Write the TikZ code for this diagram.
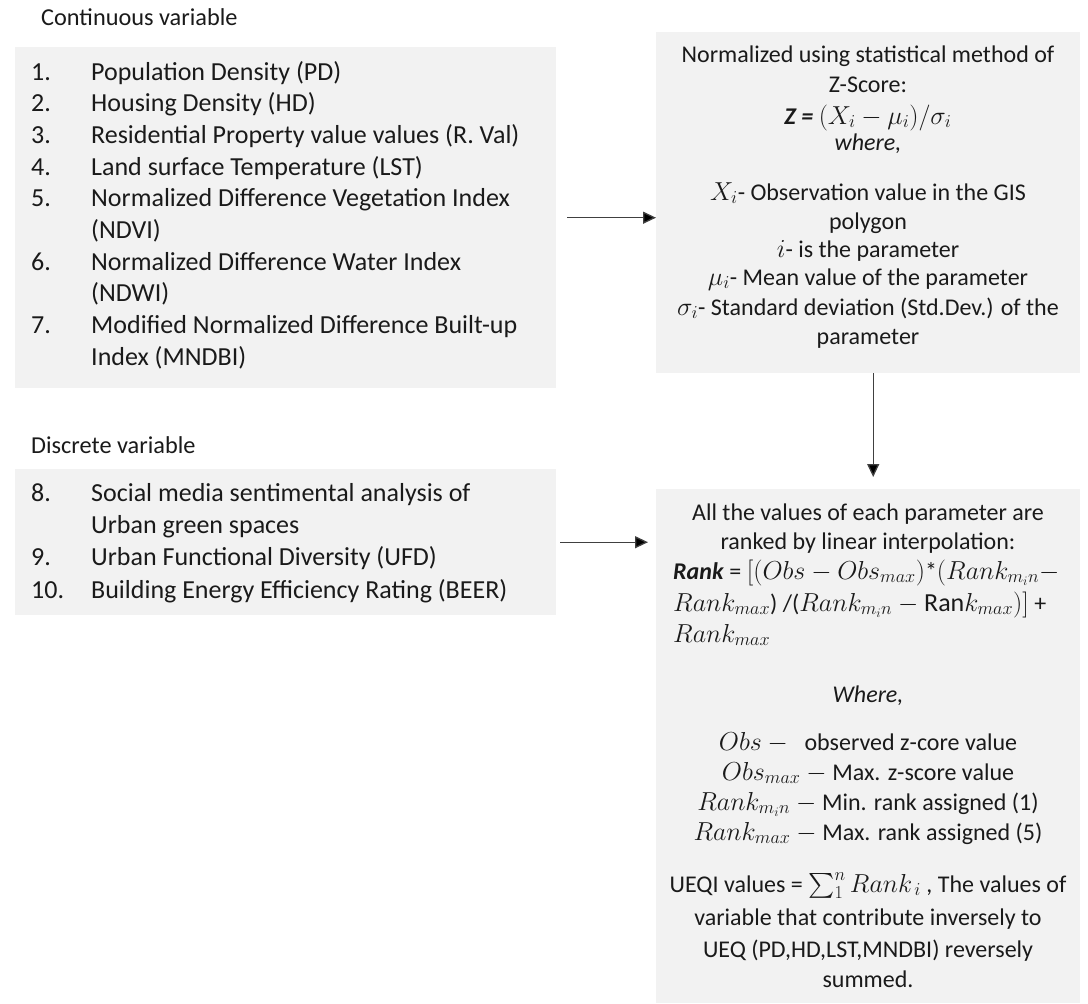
\RequirePackage{fix-cm}
\documentclass[tikz,border=0pt]{standalone}
\usepackage{exscale}
\usepackage{fontspec}
\setmainfont{Carlito}
\usetikzlibrary{arrows.meta}
\definecolor{boxgray}{HTML}{F2F2F2}
\definecolor{ink}{HTML}{1A1A1A}
\definecolor{arrgray}{HTML}{404040}
\newcommand\mth[1]{{\fontsize{26}{29}\selectfont$#1$}}
\begin{document}
\begin{tikzpicture}[x=1pt,y=-1pt,
  box/.style={fill=boxgray,draw=none,inner sep=0pt,anchor=north west},
  lft/.style={anchor=base west,inner sep=0pt,text=ink,font=\fontsize{26}{32}\selectfont},
  hdr/.style={anchor=base west,inner sep=0pt,text=ink,font=\fontsize{24.3}{28}\selectfont},
  ctr/.style={anchor=base,inner sep=0pt,text=ink,font=\fontsize{24}{29}\selectfont},
  rl/.style={anchor=base west,inner sep=0pt,text=ink,font=\fontsize{24}{29}\selectfont},
  arr/.style={draw=arrgray,line width=1.3pt,-{Triangle[length=13pt,width=12pt,fill=black]}}]
\useasboundingbox (0,0) rectangle (1088,1004);
\fill[white] (0,0) rectangle (1088,1004);

% boxes
\node[box,minimum width=541pt,minimum height=341pt] (b1) at (15,47) {};
\node[box,minimum width=541pt,minimum height=146pt] (b2) at (15,469) {};
\node[box,minimum width=424pt,minimum height=341pt] (r1) at (656,32) {};
\node[box,minimum width=424pt,minimum height=514pt] (r2) at (656,489) {};

% headers
\node[hdr] (hc) at (41,25) {Continuous variable};
\node[hdr] (hd) at (31,453) {Discrete variable};

% continuous list
\node[lft] (n1) at (31,80) {1.};  \node[lft] (t1) at (91,80) {Population Density (PD)};
\node[lft] (n2) at (31,111.7) {2.};  \node[lft] (t2) at (91,111.7) {Housing Density (HD)};
\node[lft] (n3) at (31,143.4) {3.};  \node[lft] (t3) at (91,143.4) {Residential Property value values (R. Val)};
\node[lft] (n4) at (31,175.1) {4.};  \node[lft] (t4) at (91,175.1) {Land surface Temperature (LST)};
\node[lft] (n5) at (31,206.8) {5.};  \node[lft] (t5) at (91,206.8) {Normalized Difference Vegetation Index};
\node[lft] (t5b) at (91,238.5) {(NDVI)};
\node[lft] (n6) at (31,270.2) {6.};  \node[lft] (t6) at (91,270.2) {Normalized Difference Water Index};
\node[lft] (t6b) at (91,301.9) {(NDWI)};
\node[lft] (n7) at (31,333.6) {7.};  \node[lft] (t7) at (91,333.6) {Modified Normalized Difference Built-up};
\node[lft] (t7b) at (91,365.3) {Index (MNDBI)};

% discrete list
\node[lft] (n8) at (31,501) {8.};  \node[lft] (t8) at (91,501) {Social media sentimental analysis of};
\node[lft] (t8b) at (91,533) {Urban green spaces};
\node[lft] (n9) at (31,565) {9.};  \node[lft] (t9) at (91,565) {Urban Functional Diversity (UFD)};
\node[lft] (n10) at (31,598) {10.};  \node[lft] (t10) at (91,598) {Building Energy Efficiency Rating (BEER)};

% right box 1
\node[ctr] (a1) at (868,62) {Normalized using statistical method of};
\node[ctr] (a2) at (868,92) {Z-Score:};
\node[ctr] (a3) at (868,124) {\textbf{\textit{Z =}} \mth{(X_i-\mu_i)/\sigma_i}};
\node[ctr] (a4) at (868,150) {\textit{where,}};
\node[ctr] (a5) at (868,200) {\mth{X_i}- Observation value in the GIS};
\node[ctr] (a6) at (868,229) {polygon};
\node[ctr] (a7) at (868,257) {\mth{i}- is the parameter};
\node[ctr] (a8) at (868,285) {\mth{\mu_i}- Mean value of the parameter};
\node[ctr] (a9) at (868,315) {\mth{\sigma_i}- Standard deviation (Std.Dev.) of the};
\node[ctr] (a10) at (868,344) {parameter};

% right box 2
\node[ctr] (c1) at (868,520) {All the values of each parameter are};
\node[ctr] (c2) at (868,549) {ranked by linear interpolation:};
\node[rl] (c3) at (673,579) {\textbf{\textit{Rank}} = \mth{[(Obs-Obs_{max})}*\mth{(Rank_{m_in}-}};
\node[rl] (c4) at (673,611) {\mth{Rank_{max}}) /(\mth{Rank_{m_in}-\mathrm{Ran}k_{max})]} +};
\node[rl] (c5) at (673,642) {\mth{Rank_{max}}};
\node[ctr] (c6) at (868,702) {\textit{Where,}};
\node[ctr] (c7) at (868,750) {\mth{Obs-{}} \ observed z-core value};
\node[ctr] (c8) at (868,780) {\mth{Obs_{max}-{}}Max. z-score value};
\node[ctr] (c9) at (868,810) {\mth{Rank_{m_in}-{}}Min. rank assigned (1)};
\node[ctr] (c10) at (868,840) {\mth{Rank_{max}-{}}Max. rank assigned (5)};
\node[ctr] (c11) at (868,892) {UEQI values = \mth{\textstyle\sum\nolimits_1^n Rank_{\,i}} , The values of};
\node[ctr] (c12) at (868,925) {variable that contribute inversely to};
\node[ctr] (c13) at (868,957) {UEQ (PD,HD,LST,MNDBI) reversely};
\node[ctr] (c14) at (868,987) {summed.};

% connectors
\draw[arr,shorten <=11pt] (b1.east) -- (b1.east -| r1.west);
\draw[arr,shorten <=4pt,shorten >=8pt] (b2.east) -- (b2.east -| r2.west);
\draw[arr,shorten >=12pt] ([xshift=5pt]r1.south) -- ([xshift=5pt]r2.north);
\end{tikzpicture}
\end{document}
